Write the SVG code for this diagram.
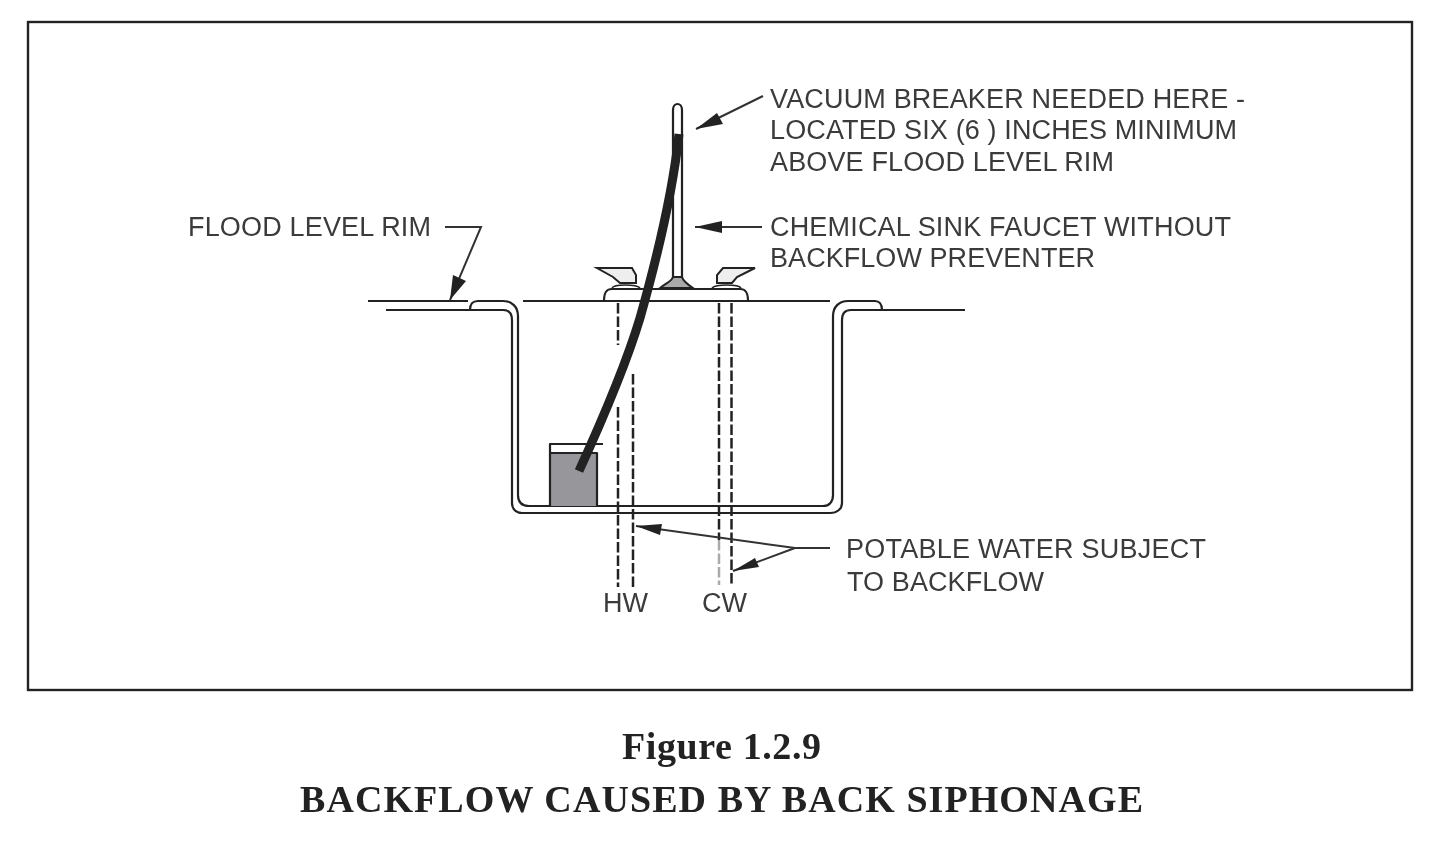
<svg xmlns="http://www.w3.org/2000/svg" width="1440" height="852" viewBox="0 0 1440 852">
<style>
.l{fill:none;stroke:#222;stroke-width:2.2;stroke-linejoin:round}
.d{fill:none;stroke:#222;stroke-width:2.5;stroke-dasharray:10.500 3}
.t{font-family:"Liberation Sans",Arial,sans-serif;font-size:27px;fill:#3a3a3a}
.f{font-family:"Liberation Serif","Times New Roman",serif;font-size:38px;font-weight:bold;fill:#222}
.a{fill:none;stroke:#333;stroke-width:2}
.h{fill:#eee;stroke:#222;stroke-width:2}
</style>
<defs>
<filter id="soft" filterUnits="userSpaceOnUse" x="0" y="0" width="1440" height="852"><feGaussianBlur stdDeviation="0.6"/></filter>
</defs>
<rect width="1440" height="852" fill="#fff"/>
<g filter="url(#soft)">
<rect x="28" y="22" width="1384" height="668" fill="none" stroke="#222" stroke-width="2.4"/>
<g id="sink">
<path class="l" d="M368 301H468"/>
<path class="l" d="M470 310C470 304 472 301 478 301H503C512 301 518 307 518 316V495C518 502 522 506 529 506H823C829 506 833 502 833 495V316C833 307 839 301 848 301H875C879 301 882 304 882 310"/>
<path class="l" d="M386 310H503C509 310 512 314 512 320V503C512 509 516 513 522 513H830C837 513 842 509 842 503V320C842 314 845 310 851 310H965"/>
<path class="l" d="M523 301H830"/>
</g>
<g id="cup">
<rect x="550" y="453" width="47" height="53" fill="#97979b"/>
<path class="l" d="M550 506V444H603M550 453H597V506"/>
</g>
<g id="pipes">
<path class="d" d="M618 303V345M618 407V587"/>
<path class="d" d="M633 374V587"/>
<path class="d" d="M719 303V540"/>
<path class="d" d="M719 540V585" style="stroke:#aaa"/>
<path class="d" d="M731.500 303V585"/>
</g>
<g id="faucet">
<path class="l" d="M673 283V110C673 102 682 102 682 110V283"/>
<path d="M660 288C668 282 672 281 673 277H682C683 281 687 284 693 288Z" fill="#aaa" stroke="#222" stroke-width="2"/>
<path class="l" d="M604 301C604 293 606 289 612 289H740C746 289 748 293 748 301"/>
<path class="h" d="M597 268H632L636 275V283H620L613 277Z"/>
<path class="h" d="M755 268H723L717 275V283H732L737 277Z"/>
<path class="l" d="M612 288C614 284 636 284 640 288M712 288C716 284 738 284 741 288" style="stroke-width:1.600"/>
<path d="M679 134C672 200 655 265 640 318C625 368 600 425 579 471" fill="none" stroke="#222" stroke-width="9"/>
</g>
<g id="connectors">
<path class="a" d="M763 96L696 129"/>
<path d="M696 129L717 113L723 124Z" fill="#222"/>
<path class="a" d="M762 227H695"/>
<path d="M695 227L722 221V233Z" fill="#222"/>
<path class="a" d="M445 227H481L450 300"/>
<path d="M450 300L453 275L466 281Z" fill="#222"/>
<path class="a" d="M830 548H795L636 526"/>
<path d="M636 526L662 524L660 535Z" fill="#222"/>
<path class="a" d="M795 548L733 571"/>
<path d="M733 571L755 558L759 567Z" fill="#222"/>
</g>
<g id="labels">
<text class="t" x="770" y="108" textLength="475">VACUUM BREAKER NEEDED HERE -</text>
<text class="t" x="770" y="139" textLength="467">LOCATED SIX (6 ) INCHES MINIMUM</text>
<text class="t" x="770" y="171" textLength="344">ABOVE FLOOD LEVEL RIM</text>
<text class="t" x="770" y="236" textLength="461">CHEMICAL SINK FAUCET WITHOUT</text>
<text class="t" x="770" y="267" textLength="325">BACKFLOW PREVENTER</text>
<text class="t" x="188" y="236" textLength="243">FLOOD LEVEL RIM</text>
<text class="t" x="846" y="558" textLength="360">POTABLE WATER SUBJECT</text>
<text class="t" x="847" y="591" textLength="197">TO BACKFLOW</text>
<text class="t" x="603" y="612">HW</text>
<text class="t" x="702" y="612">CW</text>
<text class="f" x="622" y="759" textLength="199">Figure 1.2.9</text>
<text class="f" x="300" y="812" textLength="843">BACKFLOW CAUSED BY BACK SIPHONAGE</text>
</g>
</g>
</svg>
